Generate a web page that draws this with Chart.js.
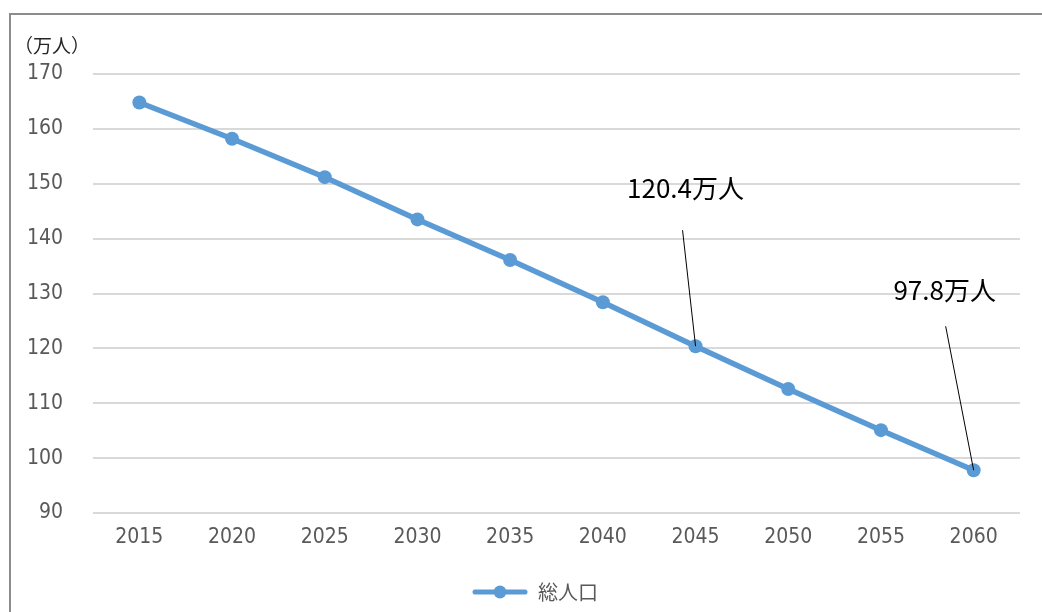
<!DOCTYPE html>
<html lang="ja">
<head>
<meta charset="utf-8">
<title>総人口の推移</title>
<script src="https://cdn.jsdelivr.net/npm/chart.js@4/dist/chart.umd.min.js"></script>
<style>
  html, body { margin: 0; padding: 0; background: #fff; }
  canvas { display: block; }
</style>
</head>
<body>
<canvas id="pop-chart" width="1042" height="612"></canvas>
<script>
// data
const years = ['2015', '2020', '2025', '2030', '2035', '2040', '2045', '2050', '2055', '2060'];
const population = [164.8, 158.2, 151.2, 143.5, 136.1, 128.4, 120.4, 112.6, 105.1, 97.8];
const yTicks = [90, 100, 110, 120, 130, 140, 150, 160, 170];
const seriesLabel = '総人口';
const unitLabel = '（万人）';
const calloutIndexes = [6, 9];
const calloutTexts = ['120.4万人', '97.8万人'];

const BLUE = '#5b9bd5';
const TICK_FONT = '"Liberation Sans Narrow", "DejaVu Sans Condensed", "Noto Sans", sans-serif';
const JP_FONT = '"Noto Sans CJK JP", "Noto Sans", sans-serif';

// where each callout sits relative to its point: text centre, line start
const calloutLayout = [
  { tx: -10, ty: -158, lx: -13, ly: -116 },
  { tx: -29, ty: -180, lx: -28, ly: -144 }
];

// legend swatch: line with a dot in the middle (transparent margin on the left
// pushes the legend item a little right, as in the original)
function makeLegendSwatch(margin) {
  const c = document.createElement('canvas');
  c.width = margin + 56;
  c.height = 16;
  const g = c.getContext('2d');
  g.strokeStyle = BLUE;
  g.lineWidth = 5;
  g.lineCap = 'round';
  g.beginPath();
  g.moveTo(margin + 3, 8);
  g.lineTo(margin + 53, 8);
  g.stroke();
  g.fillStyle = BLUE;
  g.beginPath();
  g.arc(margin + 28, 8, 6.5, 0, Math.PI * 2);
  g.fill();
  return c;
}

const framePlugin = {
  id: 'frame',
  beforeDraw(chart) {
    const { ctx } = chart;
    ctx.save();
    ctx.fillStyle = '#fff';
    ctx.fillRect(0, 0, chart.width, chart.height);
    ctx.strokeStyle = '#8c8c8c';
    ctx.lineWidth = 2;
    ctx.strokeRect(10, 14, chart.width + 20, chart.height + 20);
    ctx.fillStyle = '#262626';
    ctx.font = '19px ' + JP_FONT;
    ctx.textAlign = 'left';
    ctx.textBaseline = 'middle';
    ctx.fillText(unitLabel, 14, 46);
    ctx.restore();
  }
};

const calloutPlugin = {
  id: 'callouts',
  afterDatasetsDraw(chart) {
    const { ctx } = chart;
    const xScale = chart.scales.x;
    const yScale = chart.scales.y;
    ctx.save();
    calloutIndexes.forEach((idx, i) => {
      const px = xScale.getPixelForValue(idx);
      const py = yScale.getPixelForValue(population[idx]);
      const lay = calloutLayout[i];
      ctx.strokeStyle = '#000';
      ctx.lineWidth = 1;
      ctx.beginPath();
      ctx.moveTo(px + lay.lx, py + lay.ly);
      ctx.lineTo(px, py);
      ctx.stroke();
      ctx.fillStyle = '#000';
      ctx.font = '26px ' + JP_FONT;
      ctx.textAlign = 'center';
      ctx.textBaseline = 'middle';
      ctx.fillText(calloutTexts[i], px + lay.tx, py + lay.ty);
    });
    ctx.restore();
  }
};

new Chart(document.getElementById('pop-chart'), {
  type: 'line',
  data: {
    labels: years,
    datasets: [
      {
        label: seriesLabel,
        data: population,
        borderColor: BLUE,
        backgroundColor: BLUE,
        borderWidth: 5.5,
        pointRadius: 7,
        pointHoverRadius: 7,
        pointBackgroundColor: BLUE,
        pointBorderWidth: 0,
        tension: 0
      }
    ]
  },
  options: {
    responsive: false,
    animation: false,
    layout: { padding: { top: 74, right: 22, left: 0, bottom: 0 } },
    plugins: {
      tooltip: { enabled: false },
      legend: {
        position: 'bottom',
        labels: {
          usePointStyle: true,
          pointStyle: makeLegendSwatch(50),
          pointStyleWidth: 106,
          color: '#595959',
          font: { family: JP_FONT, size: 20 },
          padding: 10
        }
      }
    },
    scales: {
      x: {
        offset: true,
        grid: { display: false, drawTicks: false },
        border: { display: false },
        ticks: { color: '#595959', font: { family: TICK_FONT, size: 21 }, padding: 12 },
        afterFit(scale) { scale.height = 59; }
      },
      y: {
        min: 90,
        max: 170,
        afterBuildTicks(scale) { scale.ticks = yTicks.map((v) => ({ value: v })); },
        grid: { color: '#d9d9d9', lineWidth: 2, drawTicks: false },
        border: { display: false },
        ticks: { color: '#595959', font: { family: TICK_FONT, size: 21 }, padding: 30 },
        afterFit(scale) { scale.width = 93; }
      }
    }
  },
  plugins: [framePlugin, calloutPlugin]
});
</script>
</body>
</html>
